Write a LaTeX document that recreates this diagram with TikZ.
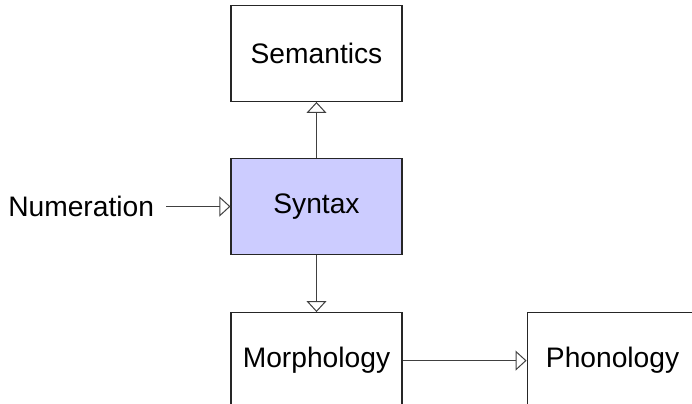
\documentclass[tikz,border=0pt]{standalone}
\usepackage{fontspec}
\setmainfont{Liberation Sans}
\usetikzlibrary{positioning, arrows.meta}

\begin{document}
\begin{tikzpicture}[node distance=28pt,
    >={Triangle[open,length=5.5pt,width=10pt]},
    module/.style={draw=black!85, line width=0.55pt, minimum width=85.5pt, minimum height=48pt, inner sep=0pt, font=\fontsize{14.1}{16}\selectfont},
    flow/.style={->, draw=black!75, line width=0.5pt}]
    \clip (-158.25pt,103.25pt) rectangle (187.75pt,-98.25pt);
    \node[module, fill={rgb,255:red,204;green,204;blue,255}] (syntax) at (0,0) {Syntax};
    \node[module, above=28pt of syntax] (semantics) {Semantics};
    \node[module, below=28.5pt of syntax] (morphology) {Morphology};
    \node[module, right=62pt of morphology] (phonology) {Phonology};
    \node[left=32pt of syntax, inner xsep=6pt, inner ysep=0pt, font=\fontsize{14.1}{16}\selectfont] (numeration) {Numeration};
    % into syntax
    \draw[flow] (numeration) -- (syntax);
    % vertical lines
    \draw[flow] (syntax) -- (semantics);
    \draw[flow] (syntax) -- (morphology);
    % to phonology
    \draw[flow] (morphology) -- (phonology);
\end{tikzpicture}
\end{document}
